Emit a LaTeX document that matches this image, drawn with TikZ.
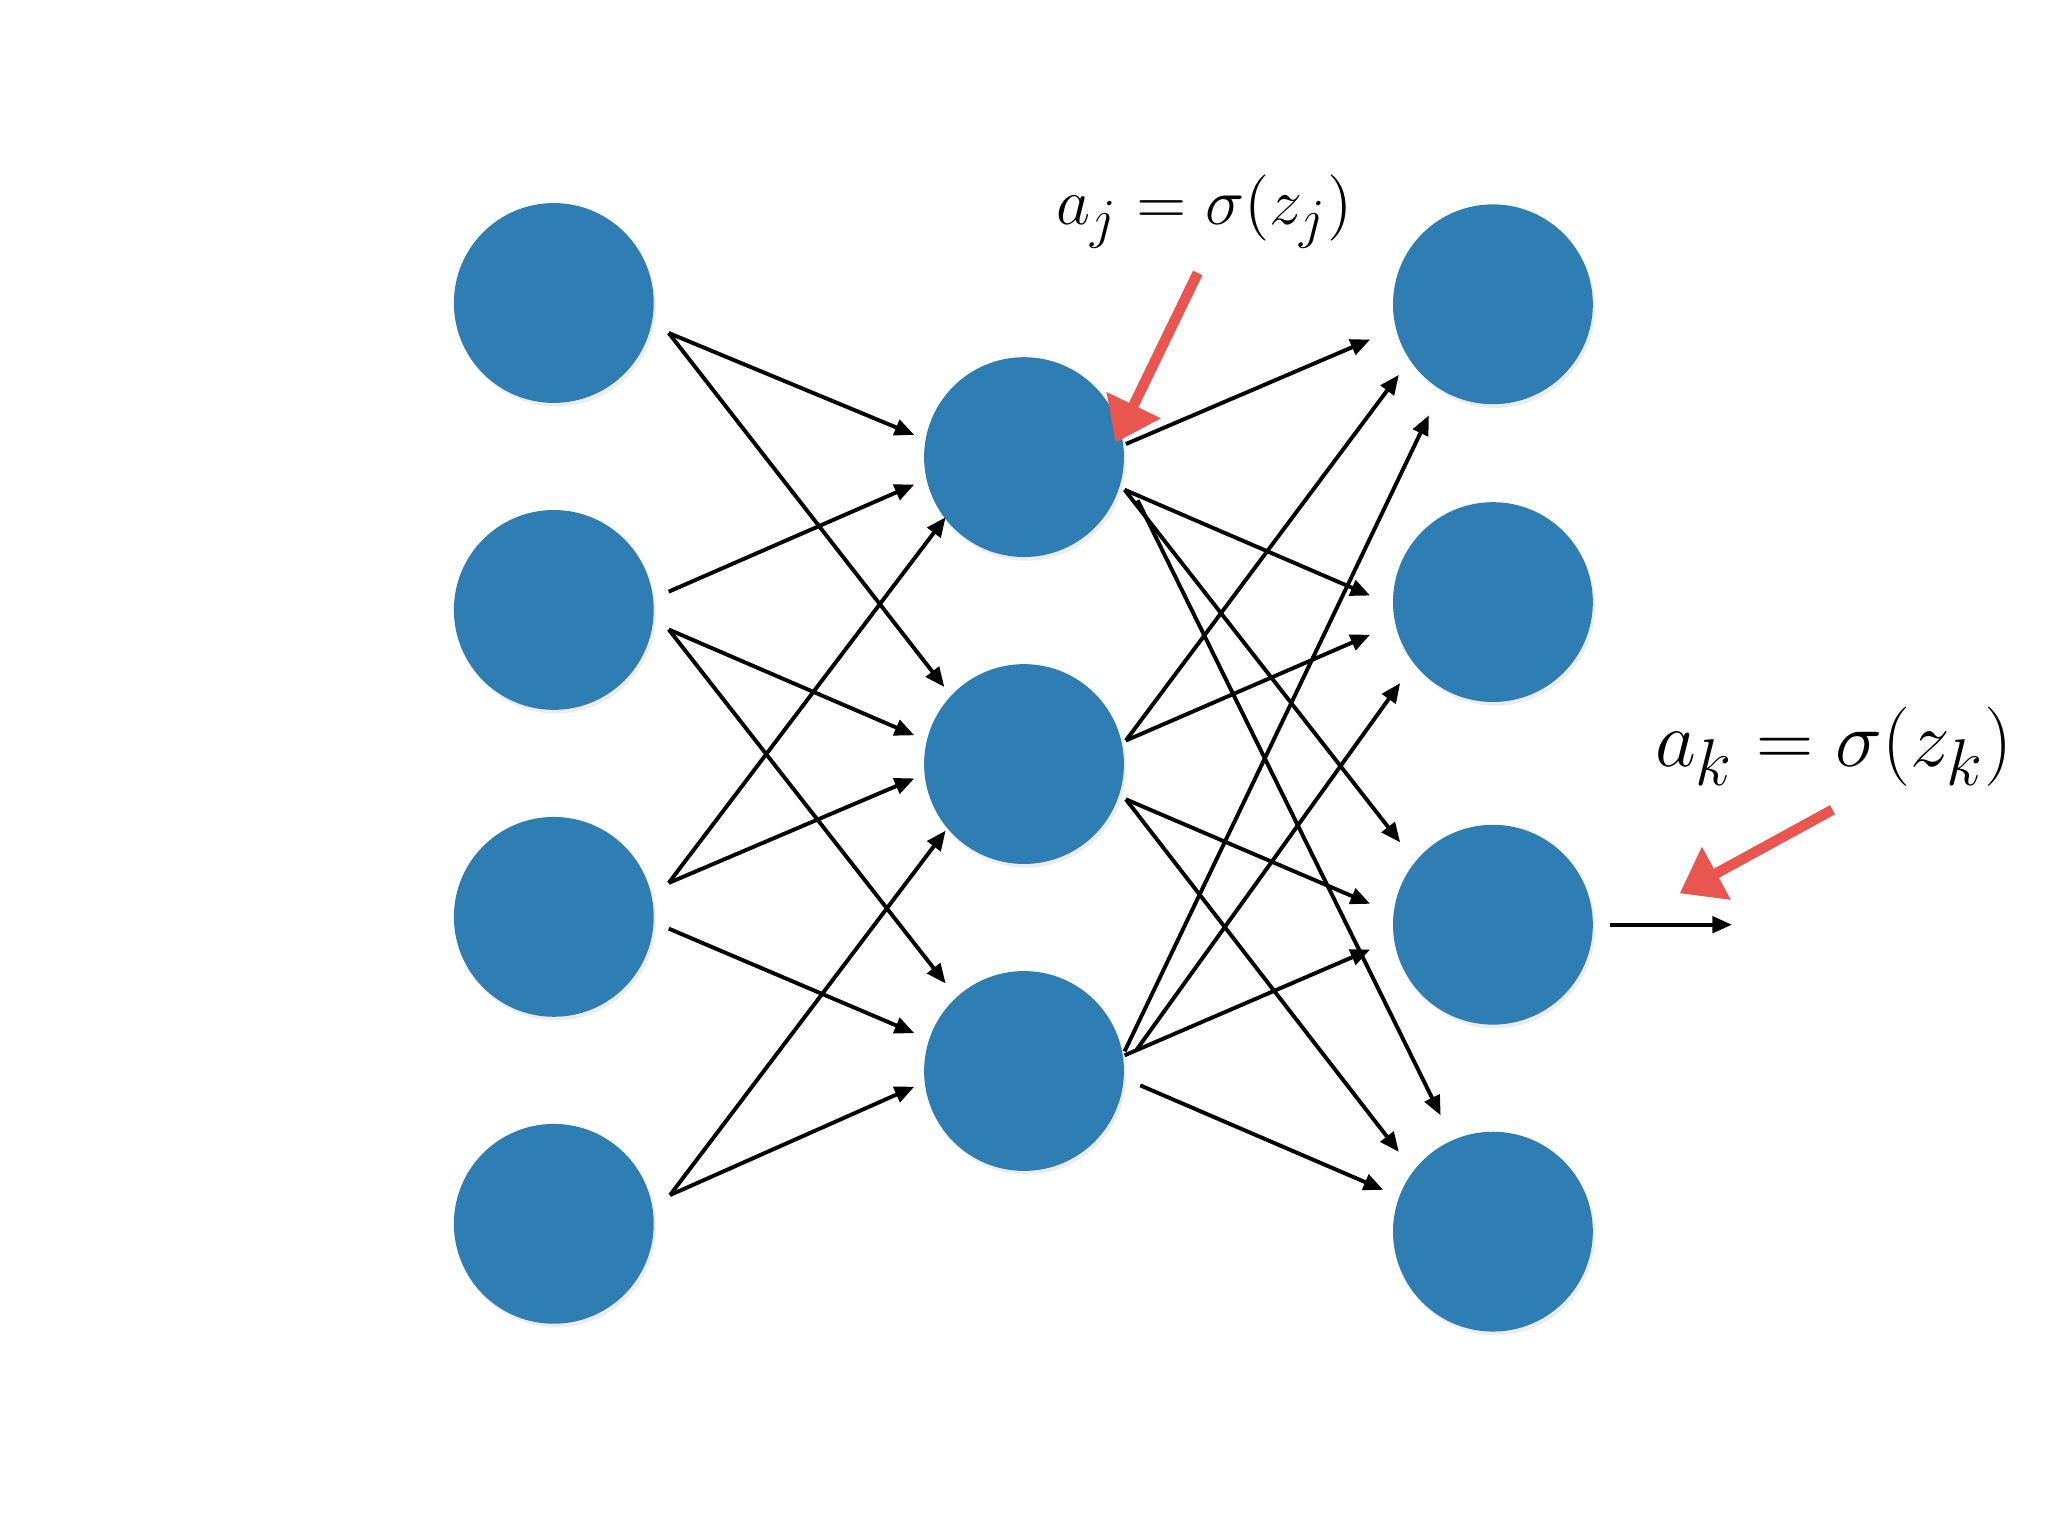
\documentclass[tikz,border=0pt]{standalone}
\usepackage{xcolor}
\usepackage{tikz}
\usetikzlibrary{arrows.meta, calc, shadows}
\definecolor{nblue}{HTML}{2E7EB3}
\definecolor{nred}{HTML}{E9564F}
\DeclareMathSizes{15.5}{15.5}{12.4}{10}
\DeclareMathSizes{17}{17}{13.6}{10}

\begin{document}
\begin{tikzpicture}[x=1cm, y=1cm,
  neuron/.style={circle, fill=nblue, minimum size=1.53cm, inner sep=0pt,
    drop shadow={shadow xshift=0.5pt, shadow yshift=-0.8pt, opacity=0.15}},
  wire/.style={line width=0.85pt, -{Triangle[length=0.15cm, width=0.125cm]}},
  pointer/.style={nred, line width=0.08cm, -{Triangle[length=0.32cm, width=0.44cm]}},
  eqn/.style={anchor=base, inner sep=0pt}]
\fill[white] (0,0) rectangle (15.68,11.76);
\useasboundingbox (0,0) rectangle (15.68,11.76);

% input layer
\node[neuron] (in1) at (4.24,9.44) {};
\node[neuron] (in2) at (4.24,7.09) {};
\node[neuron] (in3) at (4.24,4.74) {};
\node[neuron] (in4) at (4.24,2.39) {};
% hidden layer
\node[neuron] (hid1) at (7.84,8.26) {};
\node[neuron] (hid2) at (7.84,5.91) {};
\node[neuron] (hid3) at (7.84,3.56) {};
% output layer
\node[neuron] (out1) at (11.43,9.43) {};
\node[neuron] (out2) at (11.43,7.15) {};
\node[neuron] (out3) at (11.43,4.68) {};
\node[neuron] (out4) at (11.43,2.33) {};

% input -> hidden
\draw[wire] ($(in1)+(.88,-.23)$) -- ($(hid1)+(-.84,.17)$);
\draw[wire] ($(in1)+(.88,-.23)$) -- ($(hid2)+(-.61,.59)$);
\draw[wire] ($(in2)+(.88,.14)$) -- ($(hid1)+(-.84,-.21)$);
\draw[wire] ($(in2)+(.88,-.15)$) -- ($(hid2)+(-.84,.22)$);
\draw[wire] ($(in2)+(.88,-.15)$) -- ($(hid3)+(-.60,.67)$);
\draw[wire] ($(in3)+(.88,.26)$) -- ($(hid1)+(-.60,-.46)$);
\draw[wire] ($(in3)+(.88,.26)$) -- ($(hid2)+(-.84,-.11)$);
\draw[wire] ($(in3)+(.88,-.09)$) -- ($(hid3)+(-.84,.29)$);
\draw[wire] ($(in4)+(.89,.22)$) -- ($(hid2)+(-.60,-.51)$);
\draw[wire] ($(in4)+(.89,.22)$) -- ($(hid3)+(-.84,-.12)$);

% hidden -> output
\draw[wire] ($(hid1)+(.78,.10)$) -- ($(out1)+(-.94,-.27)$);
\draw[wire] ($(hid1)+(.77,-.25)$) -- ($(out2)+(-.94,.05)$);
\draw[wire] ($(hid1)+(.77,-.25)$) -- ($(out3)+(-.71,.63)$);
\draw[wire] ($(hid1)+(.87,-.33)$) -- ($(out4)+(-.40,.89)$);
\draw[wire] ($(hid2)+(.78,.18)$) -- ($(out1)+(-.72,-.54)$);
\draw[wire] ($(hid2)+(.78,.18)$) -- ($(out2)+(-.94,-.25)$);
\draw[wire] ($(hid2)+(.78,-.27)$) -- ($(out3)+(-.94,.16)$);
\draw[wire] ($(hid2)+(.78,-.27)$) -- ($(out4)+(-.72,.61)$);
\draw[wire] ($(hid3)+(.77,.15)$) -- ($(out1)+(-.49,-.85)$);
\draw[wire] ($(hid3)+(.86,.16)$) -- ($(out2)+(-.71,-.62)$);
\draw[wire] ($(hid3)+(.77,.12)$) -- ($(out3)+(-.94,-.19)$);
\draw[wire] ($(hid3)+(.89,-.11)$) -- ($(out4)+(-.84,.32)$);

% activation out of the network
\coordinate (act) at ($(out3)+(1.83,0)$);
\draw[wire] ($(out3)+(.90,0)$) -- (act);

% labels
\node[eqn, font=\fontsize{15.5}{19}\selectfont] (lblj) at (9.22,10.04) {$a_j = \sigma(z_j)$};
\node[eqn, font=\fontsize{17}{21}\selectfont] (lblk) at (14.04,5.89) {$a_k = \sigma(z_k)$};
\draw[pointer] ($(lblj.base)+(-.05,-.37)$) -- ($(hid1)+(.70,.11)$);
\draw[pointer] ($(lblk.base)+(-.01,-.33)$) -- ($(out3)+(1.43,.24)$);
\end{tikzpicture}
\end{document}
